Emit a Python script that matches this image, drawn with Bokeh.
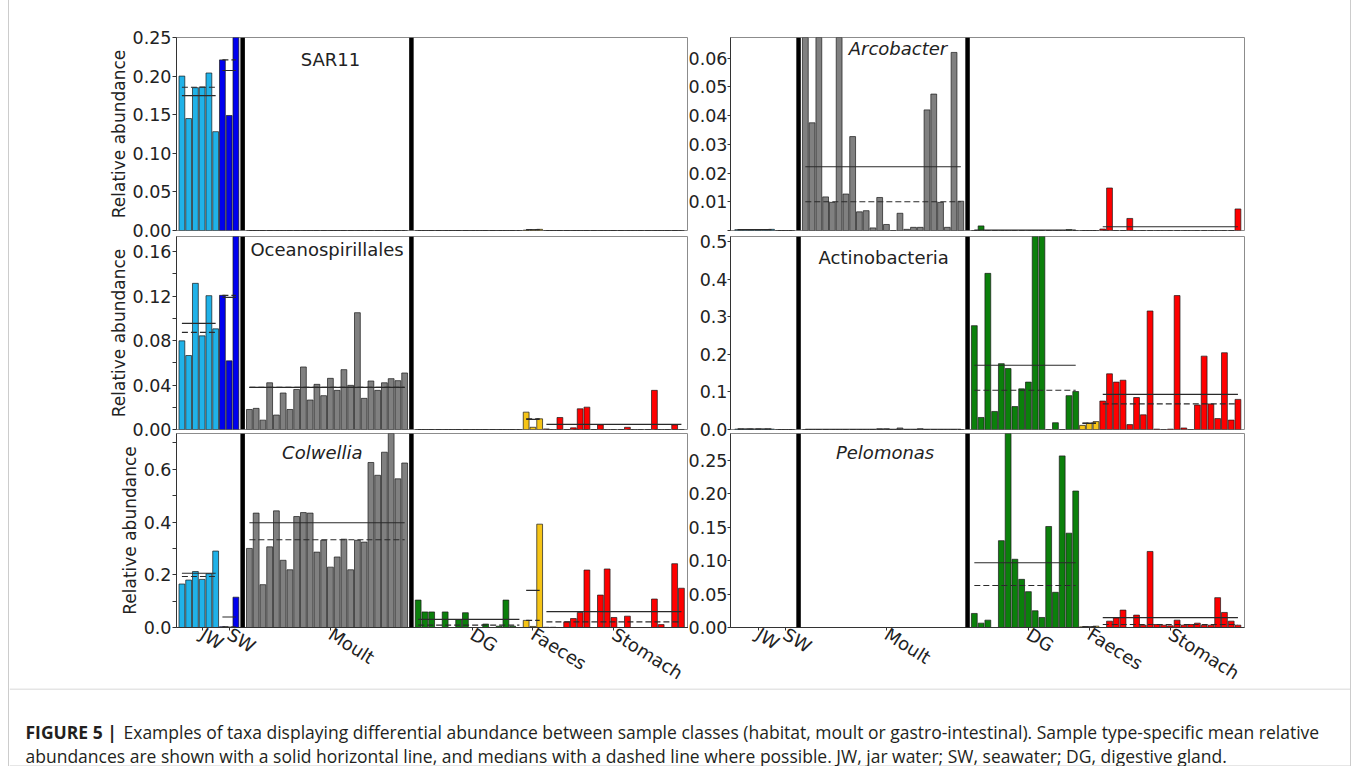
import numpy as np
from bokeh.plotting import figure
from bokeh.models import FixedTicker, Span, Label, Range1d, PrintfTickFormatter, Div, Spacer
from bokeh.layouts import column, row
from bokeh.embed import file_html
from bokeh.resources import INLINE

# ---------------- data ----------------
GROUPS = ["JW", "SW", "Moult", "DG", "Faeces", "Stomach"]
GROUP_COLORS = ["#20b2e8", "#0000ee", "#808080", "#0b800b", "#f6c416", "#ff0000"]

# SAR11
sar11_jw = [0.200, 0.145, 0.185, 0.186, 0.204, 0.128]
sar11_sw = [0.221, 0.149, 0.252]
sar11_moult = [0, 0, 0, 0, 0, 0, 0, 0, 0, 0, 0, 0, 0, 0, 0, 0, 0, 0, 0, 0, 0, 0, 0, 0]
sar11_dg = [0, 0, 0, 0, 0, 0, 0, 0, 0, 0, 0, 0, 0, 0, 0, 0]
sar11_faeces = [0.0005, 0.0010, 0.0015]
sar11_stomach = [0, 0, 0, 0, 0, 0, 0, 0, 0, 0, 0, 0, 0, 0, 0, 0, 0, 0, 0, 0, 0]

# Oceanospirillales
ocean_jw = [0.0797, 0.0665, 0.1314, 0.0842, 0.1203, 0.0905]
ocean_sw = [0.1206, 0.0617, 0.1740]
ocean_moult = [0.018, 0.019, 0.0084, 0.042, 0.013, 0.0328, 0.018, 0.036, 0.0562, 0.0265,
               0.0406, 0.0304, 0.046, 0.0352, 0.0538, 0.0397, 0.105, 0.028, 0.0436, 0.0352,
               0.042, 0.0457, 0.0439, 0.0508]
ocean_dg = [0, 0, 0, 0, 0, 0, 0, 0, 0, 0, 0, 0, 0, 0, 0, 0]
ocean_faeces = [0.0156, 0.0020, 0.0096]
ocean_stomach = [0.0005, 0, 0.0108, 0, 0.0015, 0.0186, 0.0201, 0, 0.0042, 0, 0,
                 0, 0.0020, 0, 0, 0, 0.0352, 0, 0, 0.0042, 0]

# Colwellia
colw_jw = [0.165, 0.180, 0.2125, 0.1825, 0.204, 0.290]
colw_sw = [0.003, 0.002, 0.115]
colw_moult = [0.300, 0.434, 0.1625, 0.306, 0.4425, 0.255, 0.219, 0.421, 0.436, 0.434,
              0.286, 0.331, 0.229, 0.2675, 0.335, 0.219, 0.331, 0.324, 0.626, 0.5775,
              0.665, 0.750, 0.564, 0.624]
colw_dg = [0.104, 0.059, 0.059, 0, 0.059, 0, 0.030, 0.056, 0, 0, 0.013, 0, 0.005, 0.104, 0.005, 0]
colw_faeces = [0.027, 0.004, 0.392]
colw_stomach = [0.001, 0.001, 0, 0.0215, 0.034, 0.057, 0.218, 0, 0.123, 0.222, 0.038,
                0, 0.043, 0, 0, 0, 0.108, 0.011, 0, 0.242, 0.149]

# Arcobacter
arco_jw = [0.0003, 0.0003, 0.0003, 0.0003, 0.0003, 0.0004]
arco_sw = [0, 0, 0]
arco_moult = [0.080, 0.0375, 0.069, 0.0117, 0.0098, 0.070, 0.0127, 0.0327, 0.0065, 0.0069,
              0.0009, 0.0115, 0.0021, 0.0, 0.006, 0.0004, 0.0011, 0.0011, 0.042, 0.0475,
              0.0098, 0.0011, 0.062, 0.0102]
arco_dg = [0, 0.0016, 0, 0, 0, 0, 0, 0, 0, 0, 0, 0, 0, 0, 0.0003, 0]
arco_faeces = [0, 0, 0]
arco_stomach = [0.0005, 0.0148, 0, 0, 0.0042, 0, 0, 0, 0, 0, 0,
                0, 0, 0, 0, 0, 0, 0, 0, 0, 0.0075]

# Actinobacteria
acti_jw = [0.001, 0.001, 0.001, 0.001, 0.001, 0.001]
acti_sw = [0, 0, 0]
acti_moult = [0, 0, 0, 0, 0, 0, 0, 0, 0, 0, 0, 0.002, 0.002, 0, 0.004, 0, 0, 0.002,
              0, 0, 0, 0, 0, 0]
acti_dg = [0.276, 0.032, 0.415, 0.048, 0.175, 0.162, 0.061, 0.108, 0.126, 0.580, 0.540,
           0.0, 0.018, 0.0, 0.090, 0.101]
acti_faeces = [0.011, 0.017, 0.021]
acti_stomach = [0.0756, 0.148, 0.126, 0.131, 0.013, 0.085, 0.039, 0.315, 0.001, 0.0, 0.001,
                0.356, 0.004, 0.0, 0.065, 0.195, 0.068, 0.029, 0.204, 0.025, 0.080]

# Pelomonas
pelo_jw = [0, 0, 0, 0, 0, 0]
pelo_sw = [0, 0, 0]
pelo_moult = [0, 0, 0, 0, 0, 0, 0, 0, 0, 0, 0, 0, 0, 0, 0, 0, 0, 0, 0, 0, 0, 0, 0, 0]
pelo_dg = [0.021, 0.0065, 0.011, 0.0, 0.1298, 0.306, 0.102, 0.072, 0.0536, 0.025, 0.015,
           0.151, 0.0526, 0.2565, 0.141, 0.204]
pelo_faeces = [0.001, 0.0005, 0.002]
pelo_stomach = [0.0, 0.0095, 0.0145, 0.026, 0.0, 0.0185, 0.0035, 0.1137, 0.0045, 0.0035, 0.0025,
                0.011, 0.0035, 0.0045, 0.0065, 0.0035, 0.0035, 0.0446, 0.0225, 0.0095, 0.0035]

# panel definitions: name, italic, series, y max, major ticks, minor ticks, label format
PANELS = [
    ("SAR11", False, [sar11_jw, sar11_sw, sar11_moult, sar11_dg, sar11_faeces, sar11_stomach],
     0.25, [0.0, 0.05, 0.10, 0.15, 0.20, 0.25], [], "%.2f"),
    ("Oceanospirillales", False, [ocean_jw, ocean_sw, ocean_moult, ocean_dg, ocean_faeces, ocean_stomach],
     0.1735, [0.0, 0.04, 0.08, 0.12, 0.16], [0.02, 0.06, 0.10, 0.14], "%.2f"),
    ("Colwellia", True, [colw_jw, colw_sw, colw_moult, colw_dg, colw_faeces, colw_stomach],
     0.736, [0.0, 0.2, 0.4, 0.6], [0.1, 0.3, 0.5, 0.7], "%.1f"),
    ("Arcobacter", True, [arco_jw, arco_sw, arco_moult, arco_dg, arco_faeces, arco_stomach],
     0.0672, [0.01, 0.02, 0.03, 0.04, 0.05, 0.06], [0.0], "%.2f"),
    ("Actinobacteria", False, [acti_jw, acti_sw, acti_moult, acti_dg, acti_faeces, acti_stomach],
     0.513, [0.0, 0.1, 0.2, 0.3, 0.4, 0.5], [], "%.1f"),
    ("Pelomonas", True, [pelo_jw, pelo_sw, pelo_moult, pelo_dg, pelo_faeces, pelo_stomach],
     0.29, [0.0, 0.05, 0.10, 0.15, 0.20, 0.25], [], "%.2f"),
]

# ---------------- layout / style ----------------
FONT = "DejaVu Sans"
TEXT = "#222222"
BOX = "#cccccc"
X0 = 9  # page x where the boxed content starts (8px spacer + 1px box line)
XR = [(-0.8, 75.05), (-1.07, 74.97)]
FRAME_W = [512, 514]
FRAME_H = [193, 193, 194]
BORDER_TOP = [37, 12, 12]
BORDER_BOTTOM = [12, 12, 61]
MARGIN_TOP = [0, -18, -20]
RIGHT_BORDER_LEFT = 46
TITLE_X = [22.0, 21.5, 20.8, 23.7, 21.6, 21.8]
TITLE_OFF = [11, 2, 8, 0, 10, 8]


def group_starts(series):
    starts, pos = [], 0
    for gi, vals in enumerate(series):
        starts.append(pos)
        pos += len(vals)
        if gi in (1, 2):
            pos += 1  # separator slot
    return starts


def make_panel(k):
    name, italic, series, ymax, major, minor, fmt = PANELS[k]
    col, r = k // 3, k % 3
    margin_left = 0 if col == 0 else -(RIGHT_BORDER_LEFT - 42)
    p = figure(frame_width=FRAME_W[col], frame_height=FRAME_H[r],
               x_range=Range1d(*XR[col]), y_range=Range1d(0, ymax),
               min_border_left=176 - X0 if col == 0 else RIGHT_BORDER_LEFT,
               min_border_right=0 if col == 0 else 1350 - 1244,
               min_border_top=BORDER_TOP[r], min_border_bottom=BORDER_BOTTOM[r],
               margin=(MARGIN_TOP[r], 0, 0, margin_left),
               toolbar_location=None, output_backend="svg", title=None)
    p.grid.visible = False
    p.outline_line_color = "#8c8c8c"
    p.outline_line_width = 1
    p.background_fill_color = "white"
    p.border_fill_color = None

    starts = group_starts(series)
    lines = []
    for gi, vals in enumerate(series):
        xs = [starts[gi] + i for i in range(len(vals))]
        p.vbar(x=xs, top=vals, bottom=0, width=0.86, fill_color=GROUP_COLORS[gi],
               line_color="#1a1a1a", line_width=0.7)
        if len(vals) > 1:
            lines.append((xs[0], xs[-1], float(np.mean(vals)), float(np.median(vals))))
    for x0, x1, m, md in lines:
        p.segment(x0=[x0], x1=[x1], y0=[m], y1=[m], line_color="#2a2a2a", line_width=1.1)
        p.segment(x0=[x0], x1=[x1], y0=[md], y1=[md], line_color="#2a2a2a",
                  line_width=1.1, line_dash="6 3")
    for loc in (starts[2] - 1, starts[3] - 1):
        p.add_layout(Span(location=loc, dimension="height", line_color="black", line_width=4.5))

    p.add_layout(Label(x=TITLE_X[k], y=ymax * (1 - TITLE_OFF[k] / FRAME_H[r]), text=name,
                       text_align="center", text_baseline="top", text_font=FONT,
                       text_font_size="18px", text_color=TEXT,
                       text_font_style="italic" if italic else "normal"))

    ya = p.yaxis[0]
    ya.ticker = FixedTicker(ticks=major, minor_ticks=minor)
    ya.formatter = PrintfTickFormatter(format=fmt)
    ya.major_label_text_font = FONT
    ya.major_label_text_font_size = "17.5px"
    ya.major_label_text_color = TEXT
    ya.major_tick_out = 4 if col == 0 else 3
    ya.major_tick_in = 0
    ya.minor_tick_out = 4 if col == 0 else 3
    ya.minor_tick_in = 0
    ya.major_label_standoff = 1 if col == 0 else 0
    ya.axis_line_color = "#333333"
    ya.major_tick_line_color = "#333333"
    ya.minor_tick_line_color = "#333333"
    if col == 0:
        ya.axis_label = "Relative abundance"
        ya.axis_label_text_font = FONT
        ya.axis_label_text_font_size = "17px"
        ya.axis_label_text_font_style = "normal"
        ya.axis_label_text_color = TEXT
        ya.axis_label_standoff = 1

    xa = p.xaxis[0]
    if r == 2:
        ticks = [starts[gi] + len(series[gi]) // 2 for gi in range(len(GROUPS))]
        xa.ticker = FixedTicker(ticks=ticks)
        xa.major_label_overrides = {t: g for t, g in zip(ticks, GROUPS)}
        xa.major_label_orientation = -0.56
        xa.major_label_text_font = FONT
        xa.major_label_text_font_size = "18px"
        xa.major_label_text_color = TEXT
        xa.major_tick_out = 3
        xa.major_tick_in = 0
        xa.minor_tick_out = 0
        xa.minor_tick_in = 0
        xa.major_label_standoff = 2
        xa.axis_line_color = "#333333"
        xa.major_tick_line_color = "#333333"
    else:
        xa.visible = False
    return p


panels = [make_panel(k) for k in range(6)]

# caption
CAP_BOLD = "FIGURE 5 |"
CAP_LINE1 = ("Examples of taxa displaying differential abundance between sample classes "
             "(habitat, moult or gastro-intestinal). Sample type-specific mean relative")
CAP_LINE2 = ("abundances are shown with a solid horizontal line, and medians with a dashed "
             "line where possible. JW, jar water; SW, seawater; DG, digestive gland.")
CAP_FONT = "Open Sans"
CAP_W = 1350 - X0
CAP_H = 78

cap = figure(width=CAP_W, height=CAP_H, x_range=Range1d(0, CAP_W), y_range=Range1d(CAP_H, 0),
             min_border=0, margin=(-7, 0, 0, 0),
             toolbar_location=None, output_backend="svg", title=None)
cap.axis.visible = False
cap.grid.visible = False
cap.outline_line_color = None
cap.border_fill_color = None
cap.background_fill_color = None
cap.segment(x0=[0], x1=[CAP_W], y0=[0.5], y1=[0.5], line_color=BOX, line_width=1)
cap.segment(x0=[0], x1=[CAP_W], y0=[CAP_H - 0.5], y1=[CAP_H - 0.5], line_color=BOX, line_width=1)
cap.add_layout(Label(x=25 - X0, y=43, text=CAP_BOLD, text_font=CAP_FONT, text_font_size="17.5px",
                     text_font_style="bold", text_color="#231f20", text_baseline="middle"))
cap.add_layout(Label(x=123 - X0, y=43, text=CAP_LINE1, text_font=CAP_FONT, text_font_size="17.5px",
                     text_color="#231f20", text_baseline="middle"))
cap.add_layout(Label(x=25 - X0, y=67, text=CAP_LINE2, text_font=CAP_FONT, text_font_size="17.5px",
                     text_color="#231f20", text_baseline="middle"))

content = column(row(panels[0], panels[3], margin=0, spacing=0),
                 row(panels[1], panels[4], margin=0, spacing=0),
                 row(panels[2], panels[5], margin=0, spacing=0), cap, margin=0, spacing=0)
TOTAL_H = 688 + CAP_H
vline_l = Div(text="", width=1, height=TOTAL_H, margin=0, styles={"background-color": BOX})
vline_r = Div(text="", width=1, height=TOTAL_H, margin=0, styles={"background-color": BOX})
layout = row(Spacer(width=8, height=TOTAL_H, margin=0), vline_l, content, vline_r,
             margin=0, spacing=0)

open("out.html", "w").write(file_html(layout, INLINE))
